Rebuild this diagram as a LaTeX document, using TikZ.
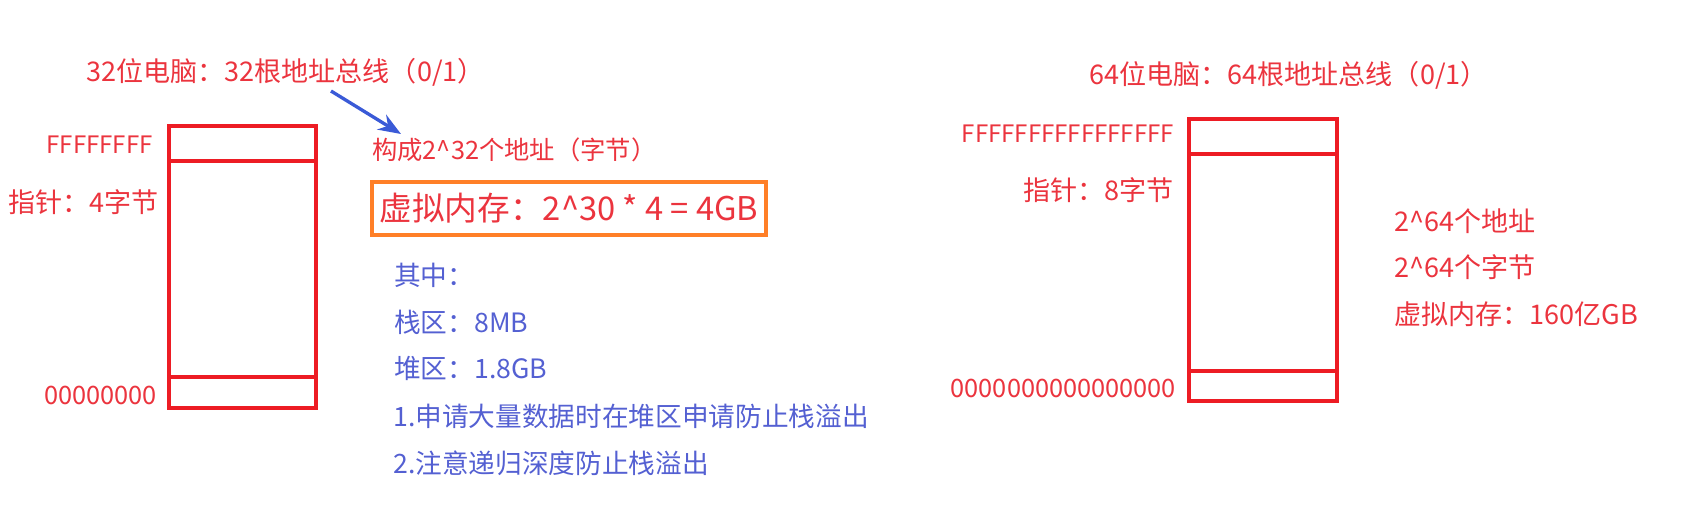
\documentclass[tikz,border=0pt]{standalone}
\usepackage{fontspec}
\setmainfont{Noto Sans CJK SC}
\usetikzlibrary{arrows.meta}
\definecolor{txtred}{RGB}{235,52,62}
\definecolor{boxred}{RGB}{237,28,36}
\definecolor{boxorange}{RGB}{255,127,39}
\definecolor{txtblue}{RGB}{84,96,210}
\definecolor{arrblue}{RGB}{58,90,215}
\begin{document}
\begin{tikzpicture}[x=0.75pt,y=-0.75pt,
  redtxt/.style={text=txtred, font=\fontsize{19}{22}\selectfont, inner sep=0pt},
  bigred/.style={redtxt, font=\fontsize{20.3}{23}\selectfont},
  hexred/.style={redtxt, font=\fontsize{18}{21}\selectfont},
  bluetxt/.style={text=txtblue, font=\fontsize{20}{23}\selectfont, inner sep=0pt, anchor=west},
  memline/.style={draw=boxred, line width=3pt},
  orangebox/.style={draw=boxorange, line width=3pt, text=txtred, font=\fontsize{24.5}{27}\selectfont,
    minimum width=295.5pt, minimum height=39.75pt, inner sep=0pt},
  bluearrow/.style={draw=arrblue, line width=2.5pt, -{Stealth[length=17pt,width=13pt]}}]
\useasboundingbox (0,0) rectangle (1685,512);
% left memory
\draw[memline] (168.5,126) rectangle (315.5,408);
\draw[memline] (168.5,161) -- (315.5,161);
\draw[memline] (168.5,377) -- (315.5,377);
\node[bigred, anchor=west] (t32) at (86,72) {32位电脑：32根地址总线（0/1）};
\node[hexred, anchor=east] (ff32) at (153,145) {FFFFFFFF};
\node[bigred, anchor=east] (p32) at (159,202) {指针：4字节};
\node[redtxt, anchor=east] (z32) at (157,395) {00000000};
\node[redtxt, anchor=west] (addr32) at (372,150) {构成2\textasciicircum 32个地址（字节）};
\node[orangebox] (vm32) at (569,208.5) {虚拟内存：2\textasciicircum 30 * 4 = 4GB};
\coordinate (arrS) at (331,91);
\coordinate (arrE) at (401,134);
\draw[bluearrow] (arrS) -- (arrE);
\node[bluetxt] (b1) at (394,275) {其中：};
\node[bluetxt] (b2) at (394,322) {栈区：8MB};
\node[bluetxt] (b3) at (394,368) {堆区：1.8GB};
\node[bluetxt] (b4) at (393,416) {1.申请大量数据时在堆区申请防止栈溢出};
\node[bluetxt] (b5) at (393,463) {2.注意递归深度防止栈溢出};
% right memory
\draw[memline] (1189,119) rectangle (1337,401);
\draw[memline] (1189,154) -- (1337,154);
\draw[memline] (1189,371) -- (1337,371);
\node[bigred, anchor=west] (t64) at (1089,75) {64位电脑：64根地址总线（0/1）};
\node[hexred, anchor=east] (ff64) at (1174,134) {FFFFFFFFFFFFFFFF};
\node[bigred, anchor=east] (p64) at (1174,190) {指针：8字节};
\node[redtxt, anchor=east] (z64) at (1176,388) {0000000000000000};
\node[bigred, anchor=west] (a64) at (1394,221) {2\textasciicircum 64个地址};
\node[bigred, anchor=west] (by64) at (1394,267) {2\textasciicircum 64个字节};
\node[bigred, anchor=west] (vm64) at (1394,314) {虚拟内存：160亿GB};
\end{tikzpicture}
\end{document}
